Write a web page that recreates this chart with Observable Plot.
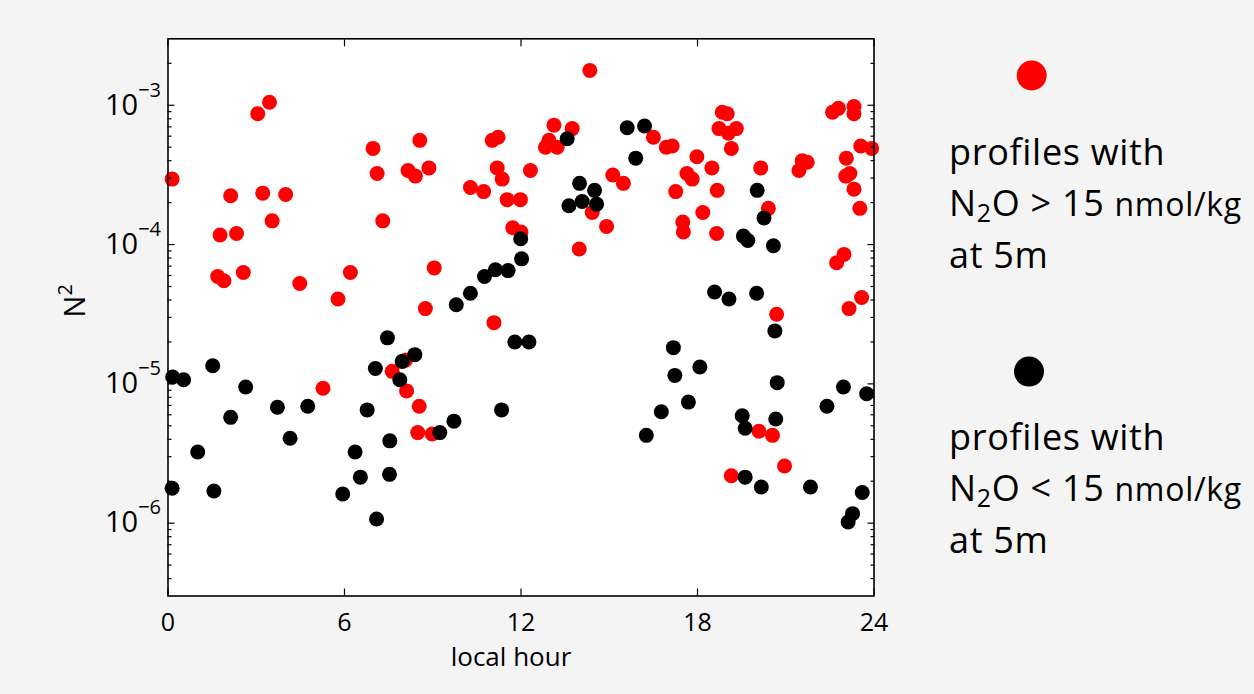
<!DOCTYPE html>
<html>
<head>
<meta charset="utf-8">
<script src="https://cdn.jsdelivr.net/npm/d3@7"></script>
<script src="https://cdn.jsdelivr.net/npm/@observablehq/plot@0.6"></script>
<style>
  html, body { margin: 0; padding: 0; background: #f4f4f4; }
  #chart { position: relative; width: 1254px; height: 694px; overflow: hidden; }
</style>
</head>
<body>
<div id="chart"></div>
<script>
// Profiles with N2O > 15 nmol/kg at 5 m: local hour and N^2 (s^-2)
const redHour = [
  0.14, 3.05, 3.45, 2.13, 3.22, 4.00, 3.54, 1.77, 2.33, 1.69, 1.90, 2.56, 4.48, 5.78, 6.20,
  6.97, 7.11, 7.30, 8.56, 8.16, 8.41, 8.87, 9.05, 8.75, 11.08, 10.28, 10.73, 11.02, 11.22, 11.19,
  11.36, 11.53, 11.98, 11.72, 12.00, 14.34, 12.32, 13.12, 12.95, 12.83, 13.23, 13.74, 14.42, 14.91, 13.98,
  15.12, 15.48, 16.50, 16.94, 17.14, 17.98, 17.64, 17.82, 17.26, 17.50, 17.52, 18.49, 18.67, 18.18, 18.65,
  18.84, 19.01, 18.73, 19.05, 19.32, 19.15, 20.15, 20.41, 21.45, 21.56, 21.73, 22.59, 22.79, 23.32, 23.32,
  23.55, 23.92, 23.06, 23.04, 23.18, 23.32, 23.52, 22.73, 22.98, 23.15, 23.58, 20.69,
  5.27, 7.62, 8.07, 8.11, 8.54, 8.49, 8.98, 20.09, 20.55, 20.96, 19.15
];
const redN2 = [
  2.95e-4, 8.7e-4, 1.05e-3, 2.24e-4, 2.34e-4, 2.29e-4, 1.48e-4, 1.17e-4, 1.2e-4, 5.9e-5, 5.5e-5, 6.3e-5, 5.25e-5, 4.07e-5, 6.3e-5,
  4.9e-4, 3.24e-4, 1.48e-4, 5.6e-4, 3.4e-4, 3.1e-4, 3.55e-4, 6.8e-5, 3.47e-5, 2.75e-5, 2.57e-4, 2.4e-4, 5.6e-4, 5.9e-4, 3.55e-4,
  2.95e-4, 2.1e-4, 2.1e-4, 1.32e-4, 1.23e-4, 1.78e-3, 3.4e-4, 7.2e-4, 5.6e-4, 5.0e-4, 5.0e-4, 6.8e-4, 1.7e-4, 1.35e-4, 9.3e-5,
  3.16e-4, 2.75e-4, 5.9e-4, 5.0e-4, 5.1e-4, 4.27e-4, 3.24e-4, 2.95e-4, 2.4e-4, 1.45e-4, 1.23e-4, 3.55e-4, 2.45e-4, 1.7e-4, 1.2e-4,
  8.9e-4, 8.7e-4, 6.8e-4, 6.3e-4, 6.8e-4, 4.9e-4, 3.55e-4, 1.82e-4, 3.4e-4, 4.0e-4, 3.9e-4, 8.9e-4, 9.5e-4, 9.8e-4, 8.7e-4,
  5.1e-4, 4.9e-4, 4.17e-4, 3.1e-4, 3.24e-4, 2.5e-4, 1.82e-4, 7.4e-5, 8.5e-5, 3.47e-5, 4.17e-5, 3.16e-5,
  9.3e-6, 1.23e-5, 1.48e-5, 8.9e-6, 6.9e-6, 4.47e-6, 4.37e-6, 4.57e-6, 4.27e-6, 2.57e-6, 2.19e-6
];

// Profiles with N2O < 15 nmol/kg at 5 m
const blackHour = [
  9.80, 10.28, 10.76, 11.13, 11.56, 11.99, 12.02, 13.57, 15.61, 16.20, 15.90, 13.99, 14.50, 14.08, 13.63,
  14.57, 20.03, 20.26, 19.56, 19.71, 20.58, 18.58, 19.07, 20.01, 20.63,
  0.16, 0.53, 1.52, 2.64, 2.13, 3.72, 4.75, 4.15, 1.01, 0.14, 1.56, 5.94, 6.54, 6.36, 6.77,
  7.05, 7.46, 8.39, 7.96, 7.88, 7.54, 7.53, 7.09, 9.24, 9.72, 11.34, 11.79, 12.27,
  17.18, 17.23, 18.08, 17.69, 16.77, 16.26, 20.71, 20.66, 19.52, 19.62, 19.62, 20.17, 21.84,
  22.40, 22.96, 23.75, 23.60, 23.27, 23.12
];
const blackN2 = [
  3.7e-5, 4.47e-5, 5.9e-5, 6.6e-5, 6.5e-5, 1.1e-4, 7.9e-5, 5.75e-4, 6.9e-4, 7.1e-4, 4.17e-4, 2.75e-4, 2.45e-4, 2.04e-4, 1.9e-4,
  1.95e-4, 2.45e-4, 1.55e-4, 1.15e-4, 1.07e-4, 9.8e-5, 4.57e-5, 4.07e-5, 4.47e-5, 2.4e-5,
  1.12e-5, 1.07e-5, 1.35e-5, 9.5e-6, 5.75e-6, 6.8e-6, 6.9e-6, 4.07e-6, 3.24e-6, 1.78e-6, 1.7e-6, 1.62e-6, 2.14e-6, 3.24e-6, 6.5e-6,
  1.29e-5, 2.14e-5, 1.62e-5, 1.45e-5, 1.07e-5, 3.9e-6, 2.24e-6, 1.07e-6, 4.47e-6, 5.4e-6, 6.5e-6, 2.0e-5, 2.0e-5,
  1.82e-5, 1.15e-5, 1.32e-5, 7.4e-6, 6.3e-6, 4.27e-6, 1.02e-5, 5.6e-6, 5.9e-6, 4.8e-6, 2.14e-6, 1.82e-6, 1.82e-6,
  6.9e-6, 9.5e-6, 8.5e-6, 1.66e-6, 1.17e-6, 1.02e-6
];

const hourTicks = [0, 6, 12, 18, 24];
const decadeTicks = [1e-6, 1e-5, 1e-4, 1e-3];
const n2Domain = [3e-7, 3e-3];
const minorTicks = [];
for (const base of [1e-7, 1e-6, 1e-5, 1e-4, 1e-3]) {
  for (let m = 2; m <= 9; m++) {
    const v = m * base;
    if (v > n2Domain[0] * 1.0001 && v < n2Domain[1] * 0.9999) minorTicks.push(v);
  }
}

const legendLabels = [
  {color: "#ff0000", sign: ">"},
  {color: "#000000", sign: "<"}
];

const red = redHour.map((h, i) => ({hour: h, n2: redN2[i]}));
const black = blackHour.map((h, i) => ({hour: h, n2: blackN2[i]}));

const W = 1254, H = 694;
const fr = {left: 167.5, right: 873.5, top: 38.3, bottom: 595.5};
const font = "'Open Sans', 'Noto Sans', sans-serif";

// Tick marks pointing into the frame: draw the outward tick and shift it inside
const yTicks = (ticks, anchor, size) =>
  Plot.axisY(ticks, {anchor, tickSize: size, dx: anchor === "left" ? size : -size,
    fill: "none", strokeWidth: 1.2, label: null});
const xTicks = (anchor, size) =>
  Plot.axisX(hourTicks, {anchor, tickSize: size, dy: anchor === "bottom" ? -size : size,
    fill: "none", strokeWidth: 1.2, label: null});

const chart = Plot.plot({
  width: W,
  height: H,
  marginLeft: fr.left,
  marginRight: W - fr.right,
  marginTop: fr.top,
  marginBottom: H - fr.bottom,
  style: {background: "transparent", fontFamily: font, color: "#000", overflow: "visible"},
  x: {domain: [0, 24], label: null},
  y: {type: "log", domain: n2Domain, label: null},
  marks: [
    Plot.frame({fill: "white", stroke: "none"}),
    Plot.dot(red, {x: "hour", y: "n2", r: 7.5, fill: "#ff0000"}),
    Plot.dot(black, {x: "hour", y: "n2", r: 7.5, fill: "#000000"}),
    xTicks("bottom", 7),
    xTicks("top", 7),
    Plot.axisX(hourTicks, {anchor: "bottom", tickSize: 0, tickPadding: 17.5, fontSize: 25, label: null}),
    yTicks(decadeTicks, "left", 7),
    yTicks(minorTicks, "left", 4),
    yTicks(decadeTicks, "right", 7),
    yTicks(minorTicks, "right", 4),
    Plot.axisY(decadeTicks, {
      anchor: "left", tickSize: 0, tickPadding: 7, fontSize: 29, label: null,
      tickFormat: d => `10^${Math.round(Math.log10(d))}`
    }),
    Plot.frame({stroke: "#000", strokeWidth: 1.6}),
    Plot.text(["local hour"], {text: d => d, frameAnchor: "bottom", lineAnchor: "middle",
      dx: -10, dy: 62, fontSize: 26, letterSpacing: 1.1}),
    Plot.text(["N^2"], {text: d => d, frameAnchor: "left", lineAnchor: "middle",
      rotate: -90, dx: -92, fontSize: 29})
  ]
});

document.getElementById("chart").appendChild(chart);
const svg = d3.select(chart);

// Exponent labels: "10" with a raised exponent
svg.selectAll('g[aria-label="y-axis tick label"] text').each(function() {
  const s = d3.select(this);
  const [base, exp] = s.text().split("^");
  s.text(null);
  s.append("tspan").text(base);
  s.append("tspan").attr("dy", -18).attr("font-size", 20).text(exp.replace("-", "\u2212"));
});

// Axis title N² with a raised 2
svg.selectAll('g[aria-label="text"] text').each(function() {
  const s = d3.select(this);
  if (s.text() !== "N^2") return;
  s.text(null);
  s.append("tspan").text("N");
  s.append("tspan").attr("dy", -13).attr("font-size", 20).text("2");
});

// Legend to the right of the frame
const legendPos = [
  {cx: 1031.7, cy: 75.5, base: 164.7},
  {cx: 1029.0, cy: 371.6, base: 449.8}
];
const leg = svg.append("g")
  .attr("font-family", font)
  .attr("font-size", 36)
  .attr("letter-spacing", "0.7px")
  .attr("text-anchor", "start")
  .attr("fill", "#000");
legendLabels.forEach((item, i) => {
  const p = legendPos[i];
  leg.append("circle").attr("cx", p.cx).attr("cy", p.cy).attr("r", 15).attr("fill", item.color);
  leg.append("text").attr("x", 949).attr("y", p.base).text("profiles with");
  const t = leg.append("text").attr("x", 949).attr("y", p.base + 51.6);
  t.append("tspan").text("N");
  t.append("tspan").attr("dy", 6).attr("font-size", 25).text("2");
  t.append("tspan").attr("dy", -6).text(`O ${item.sign} 15 `);
  t.append("tspan").attr("font-size", 32).text("nmol/kg");
  leg.append("text").attr("x", 949).attr("y", p.base + 103.3).text("at 5m");
});
</script>
</body>
</html>
